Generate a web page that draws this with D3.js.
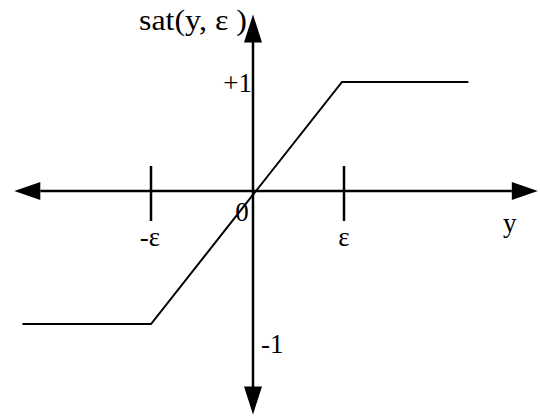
<!DOCTYPE html>
<html>
<head>
<meta charset="utf-8">
<script src="https://cdn.jsdelivr.net/npm/d3@7"></script>
<style>
  body { margin: 0; background: #fff; }
  text { font-family: "Liberation Serif", "Times New Roman", serif; fill: #000; }
</style>
</head>
<body>
<div id="chart"></div>
<script>
var width = 540, height = 417;

// saturation curve, in units of epsilon (x) and output (y)
var satX = [-2.26, -1, 1, 2.42];
var satY = [-1, -1, 1, 1];
// tick positions on y axis and their labels
var xTicks = [-1, 1];
var xTickLabels = ["-ε", "ε"];
var yLabels = ["+1", "-1"];
var yLabelValues = [1, -1];
// axis extents (arrow tips)
var xExtent = [-2.34, 3.2];
var yExtent = [-1.68, 1.62];

var fs = 27;

var svg = d3.select("#chart")
    .append("svg")
    .attr("width", width)
    .attr("height", height);

var x = d3.scaleLinear().domain([-1, 0, 1]).range([151, 253, 342]);
var y = d3.scaleLinear().domain([-1, 0, 1]).range([324, 191, 82]);

// horizontal axis
var ah = 26, aw = 9; // arrow length, half width
svg.append("line")
    .attr("x1", x(xExtent[0]) + ah).attr("x2", x(xExtent[1]) - ah)
    .attr("y1", y(0)).attr("y2", y(0))
    .attr("stroke", "#000").attr("stroke-width", 2.5);
svg.append("path")
    .attr("d", "M" + x(xExtent[0]) + "," + y(0) + "L" + (x(xExtent[0]) + ah) + "," + (y(0) - aw) + "L" + (x(xExtent[0]) + ah) + "," + (y(0) + aw) + "Z")
    .attr("fill", "#000");
svg.append("path")
    .attr("d", "M" + x(xExtent[1]) + "," + y(0) + "L" + (x(xExtent[1]) - ah) + "," + (y(0) - aw) + "L" + (x(xExtent[1]) - ah) + "," + (y(0) + aw) + "Z")
    .attr("fill", "#000");

// vertical axis
svg.append("line")
    .attr("x1", x(0)).attr("x2", x(0))
    .attr("y1", y(yExtent[1]) + ah).attr("y2", y(yExtent[0]) - ah)
    .attr("stroke", "#000").attr("stroke-width", 2.5);
svg.append("path")
    .attr("d", "M" + x(0) + "," + y(yExtent[1]) + "L" + (x(0) - aw) + "," + (y(yExtent[1]) + 28) + "L" + (x(0) + aw) + "," + (y(yExtent[1]) + 28) + "Z")
    .attr("fill", "#000");
svg.append("path")
    .attr("d", "M" + x(0) + "," + y(yExtent[0]) + "L" + (x(0) - aw) + "," + (y(yExtent[0]) - 28) + "L" + (x(0) + aw) + "," + (y(yExtent[0]) - 28) + "Z")
    .attr("fill", "#000");

// ticks on x axis
svg.selectAll(".tick")
    .data(xTicks)
    .enter()
    .append("line")
    .attr("x1", function(d){ return x(d) + (d > 0 ? 2 : 0) })
    .attr("x2", function(d){ return x(d) + (d > 0 ? 2 : 0) })
    .attr("y1", y(0) - 25).attr("y2", y(0) + 30)
    .attr("stroke", "#000").attr("stroke-width", 2.5);

svg.selectAll(".tlabel")
    .data(xTicks)
    .enter()
    .append("text")
    .attr("x", function(d){ return x(d) + (d > 0 ? 2 : -1) })
    .attr("y", 246)
    .attr("text-anchor", "middle")
    .attr("font-size", fs)
    .text(function(d, i){ return xTickLabels[i] });

// saturation curve
var line = d3.line()
    .x(function(d){ return x(d[0]) })
    .y(function(d){ return y(d[1]) });
svg.append("path")
    .datum(d3.zip(satX, satY))
    .attr("d", line)
    .attr("fill", "none")
    .attr("stroke", "#000")
    .attr("stroke-width", 2);

// labels
svg.append("text")
    .attr("x", 139).attr("y", 30)
    .attr("font-size", 29)
    .attr("textLength", 108)
    .attr("lengthAdjust", "spacingAndGlyphs")
    .text("sat(y, ε )");

svg.append("text")
    .attr("x", x(0) - 1).attr("y", y(yLabelValues[0]) + 10)
    .attr("text-anchor", "end")
    .attr("font-size", fs)
    .text(yLabels[0]);

svg.append("text")
    .attr("x", x(0) + 8).attr("y", y(yLabelValues[1]) + 29)
    .attr("font-size", fs)
    .text(yLabels[1]);

svg.append("text")
    .attr("x", 242).attr("y", 221)
    .attr("text-anchor", "middle")
    .attr("font-size", fs)
    .text("0");

svg.append("text")
    .attr("x", 503).attr("y", 232)
    .attr("font-size", fs)
    .text("y");
</script>
</body>
</html>
